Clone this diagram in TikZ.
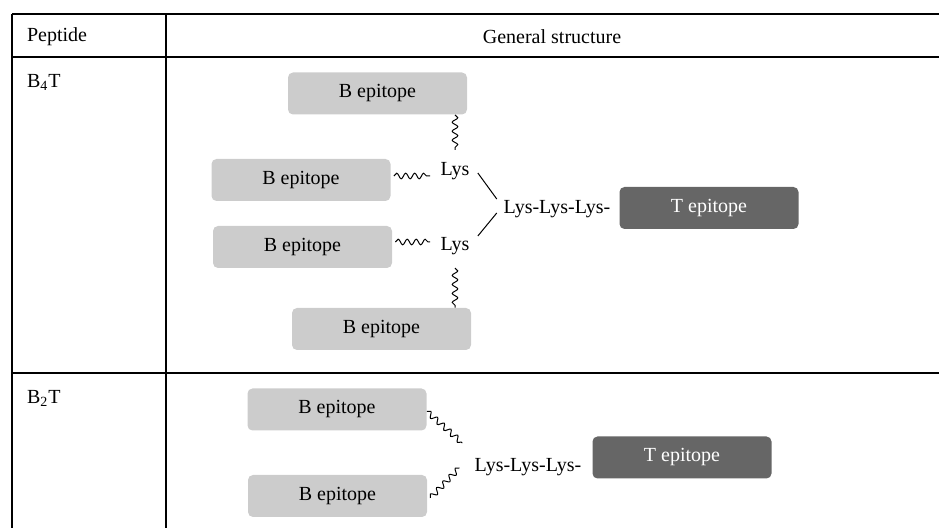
\documentclass[tikz,border=0pt]{standalone}
\usepackage{fontspec}
\setmainfont{Liberation Serif}
\usetikzlibrary{decorations.pathmorphing}
\definecolor{bgrey}{HTML}{CCCCCC}
\definecolor{tgrey}{HTML}{666666}

\begin{document}
\begin{tikzpicture}[x=0.5pt,y=-0.5pt,
  rule/.style={line width=1pt},
  bbox/.style={fill=bgrey,rounded corners=2.5pt,minimum width=89.5pt,minimum height=21pt,inner sep=0pt},
  tbox/.style={bbox,fill=tgrey,text=white},
  wavy/.style={decorate,decoration={snake,segment length=4.5pt,amplitude=1.4pt},line width=0.5pt},
  lbl/.style={inner sep=2pt},
  link/.style={line width=0.5pt}]
\useasboundingbox (0,0) rectangle (939,528);
% table rules
\draw[rule] (12,14) -- (939,14);
\draw[rule] (12,57) -- (939,57);
\draw[rule] (12,373) -- (939,373);
\draw[rule] (12,14) -- (12,528);
\draw[rule] (166,14) -- (166,528);
% heads
\node[anchor=west] (hpep) at (20,37) {Peptide};
\node (hgen) at (552,37) {General structure};
\node[anchor=west] (rowa) at (20,82) {B\textsubscript{4}T};
\node[anchor=west] (rowb) at (20,398) {B\textsubscript{2}T};
% B4T
\node[bbox] (btop) at (377.5,93.5) {B epitope};
\node[bbox] (bmida) at (301,180) {B epitope};
\node[bbox] (bmidb) at (302.5,247) {B epitope};
\node[bbox] (bbot) at (381.5,329) {B epitope};
\node[lbl] (lysa) at (455,171) {Lys};
\node[lbl] (lysb) at (455,246) {Lys};
\node[lbl] (chaina) at (557,209) {Lys-Lys-Lys-};
\node[tbox] (ta) at (709,208) {T epitope};
\draw[wavy] (btop.south -| lysa) -- ([yshift=4pt]lysa.north);
\draw[wavy] ([xshift=1.5pt,yshift=2pt]bmida.east) -- ([xshift=-3pt,yshift=2pt]bmida.east -| lysa.west);
\draw[wavy] ([xshift=1.5pt,yshift=2.5pt]bmidb.east) -- ([xshift=-3pt,yshift=2.5pt]bmidb.east -| lysb.west);
\draw[wavy] ([yshift=-4.5pt]lysb.south) -- (bbot.north -| lysb);
\draw[link] ([xshift=2pt,yshift=-1pt]lysa.east) -- ([xshift=-1.25pt,yshift=5pt]chaina.west);
\draw[link] ([xshift=-1.25pt,yshift=-2pt]chaina.west) -- ([xshift=2pt,yshift=5pt]lysb.east);
% B2T
\node[bbox] (bup) at (337,409.5) {B epitope};
\node[bbox] (blow) at (337.5,496) {B epitope};
\node[lbl] (chainb) at (528,467) {Lys-Lys-Lys-};
\node[tbox] (tb) at (682,457.5) {T epitope};
\draw[wavy] ([xshift=0pt,yshift=-1pt]bup.east) -- ([xshift=-4pt,yshift=12pt]chainb.west);
\draw[wavy] ([xshift=1.5pt,yshift=-1pt]blow.east) -- ([xshift=-5.5pt,yshift=-0.5pt]chainb.west);
\end{tikzpicture}
\end{document}
